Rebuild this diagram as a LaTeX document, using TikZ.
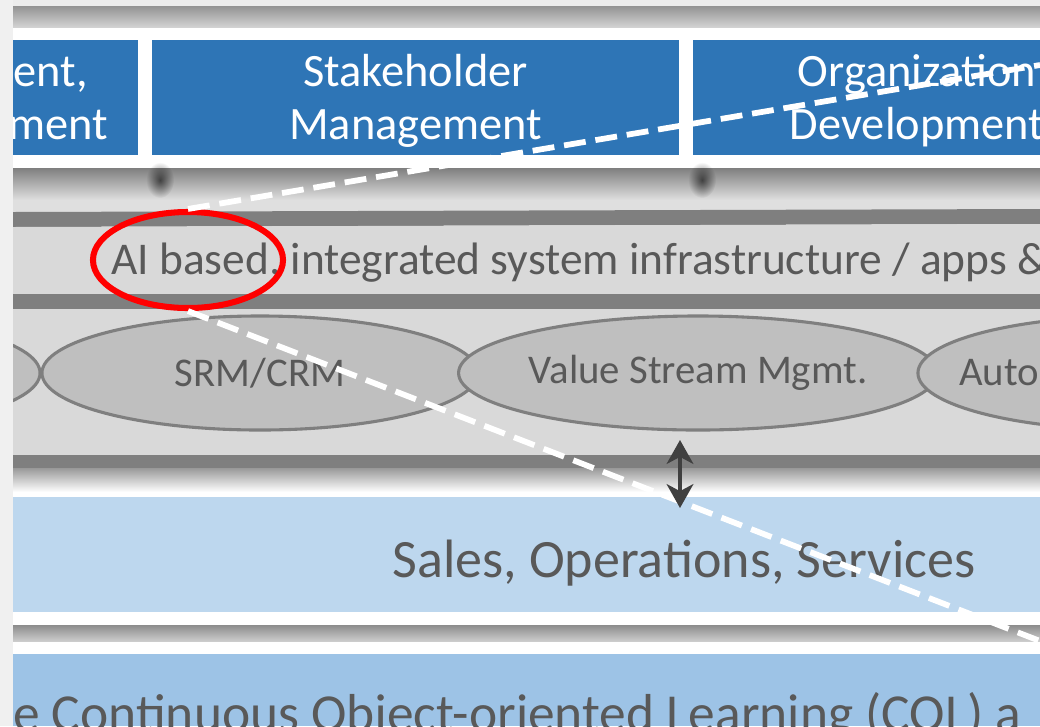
\documentclass[tikz,border=0pt]{standalone}
\usepackage{fontspec}
\setmainfont{Carlito}
\usetikzlibrary{positioning, arrows.meta, shapes.geometric, fadings}

\definecolor{slideblue}{HTML}{2E75B6}
\definecolor{paleblue}{HTML}{BDD7EE}
\definecolor{softblue}{HTML}{9DC3E6}
\definecolor{inkgray}{HTML}{595959}
\definecolor{railgray}{HTML}{7F7F7F}
\definecolor{ovalfill}{HTML}{BFBFBF}
\definecolor{bandfill}{HTML}{D9D9D9}
\definecolor{arrowgray}{HTML}{404040}

\tikzfading[name=softdot, inner color=transparent!0, outer color=transparent!100]

\tikzset{
  rail/.style={fill=railgray},
  topbox/.style={fill=slideblue, text=white, align=center, inner sep=0pt,
    minimum height=2.875cm, font=\fontsize{33}{37.7}\selectfont},
  toptext/.style={text=white, inner sep=0pt, font=\fontsize{33}{37.7}\selectfont},
  oval/.style={ellipse, draw=railgray, fill=ovalfill, line width=2.2pt,
    minimum width=10.9cm, minimum height=2.85cm, inner sep=0pt,
    text=inkgray, font=\fontsize{29}{34}\selectfont},
  graytext/.style={text=inkgray, inner sep=0pt},
  ring/.style={ellipse, draw=red, line width=4.3pt,
    minimum width=4.75cm, minimum height=2.4cm},
  zoomline/.style={draw=white, line width=4.1pt, dash pattern=on 15.6pt off 7pt},
  updown/.style={arrowgray, line width=2.5pt,
    {Stealth[length=17pt,width=19pt,inset=5pt]}-{Stealth[length=17pt,width=19pt,inset=5pt]}},
}

\begin{document}
\begin{tikzpicture}[x=0.025cm, y=-0.025cm]
\useasboundingbox (0,0) rectangle (1040,726);
\clip (0,0) rectangle (1040,726);
% slide background
\fill[white] (0,0) rectangle (1040,726);
\fill[gray!15] (0,0) rectangle (1040,6);
\shade[top color=gray!85, bottom color=gray!35] (13,6) rectangle (1040,27);

% top row of boxes
\fill[slideblue] (13,40) rectangle (138,155);
\node[toptext, anchor=base east] (procA) at (88,86) {ent,};
\node[toptext, anchor=base east] (procB) at (108,139) {ment};
\node[topbox, minimum width=13.175cm] (stake) at (415.5,97.5) {};
\node[toptext, align=center] (staketext) at (415.5,101) {Stakeholder\\Management};
\node[topbox, minimum width=11.2cm] (orgdev) at (917,97.5) {};
\node[toptext, align=center] (orgdevtext) at (917,101) {Organization\\Development};

% shadow below the boxes
\shade[top color=gray, bottom color=gray!25] (13,168) rectangle (1040,200);
\fill[gray!25] (13,200) rectangle (1040,212);
\fill[black, opacity=.6, path fading=softdot] (160,180) ellipse (14 and 18);
\fill[black, opacity=.6, path fading=softdot] (702,180) ellipse (14 and 18);

% infrastructure band
\fill[rail] (13,212) -- (1040,209) -- (1040,224) -- (13,227) -- cycle;
\fill[bandfill] (13,227) -- (1040,224) -- (1040,295) -- (13,295) -- cycle;
\node[graytext, anchor=base west, font=\fontsize{32.3}{40}\selectfont] (infra) at (111,274)
  {AI based, integrated system infrastructure / apps \&};
\fill[rail] (13,294) rectangle (1040,309);

% systems
\fill[bandfill] (13,309) rectangle (1040,455);
\node[oval] (lefto) at (-178,373) {};
\node[oval] (srm) at (260,373) {SRM/CRM};
\node[oval] (vsm) at (698,373) {Value Stream Mgmt.};
\node[oval] (auto) at (1136,373) {};
\node[graytext, anchor=west, font=\fontsize{29}{34}\selectfont] (autotext) at (959,373) {Auto};
\fill[rail] (13,455) rectangle (1040,468);
\shade[top color=gray!80, bottom color=white] (13,468) rectangle (1040,492);

% business
\fill[paleblue] (13,497) rectangle (1040,612);
\node[graytext, anchor=base, font=\fontsize{38.4}{44}\selectfont] (sales) at (684,577)
  {Sales, Operations, Services};
\shade[top color=gray!90, bottom color=gray!40] (13,625) rectangle (1040,641);
\fill[softblue] (13,654) rectangle (1040,726);
\node[graytext, anchor=base west, font=\fontsize{38}{44}\selectfont] (col) at (13,731)
  {e Continuous Object-oriented Learning (COL) a};

% left margin
\fill[gray!12] (0,0) rectangle (13,726);

% highlight and zoom lines
\node[ring] (focus) at (188,260) {};
\coordinate (zoomtop) at (1040,65);
\coordinate (zoombot) at (1040,641);
\draw[zoomline] (focus.north) -- (zoomtop);
\draw[zoomline] (focus.south) -- (zoombot);

% link between layers
\coordinate (linkup) at (680,440);
\coordinate (linkdown) at (680,508);
\draw[updown] (linkup) -- (linkdown);
\end{tikzpicture}
\end{document}
